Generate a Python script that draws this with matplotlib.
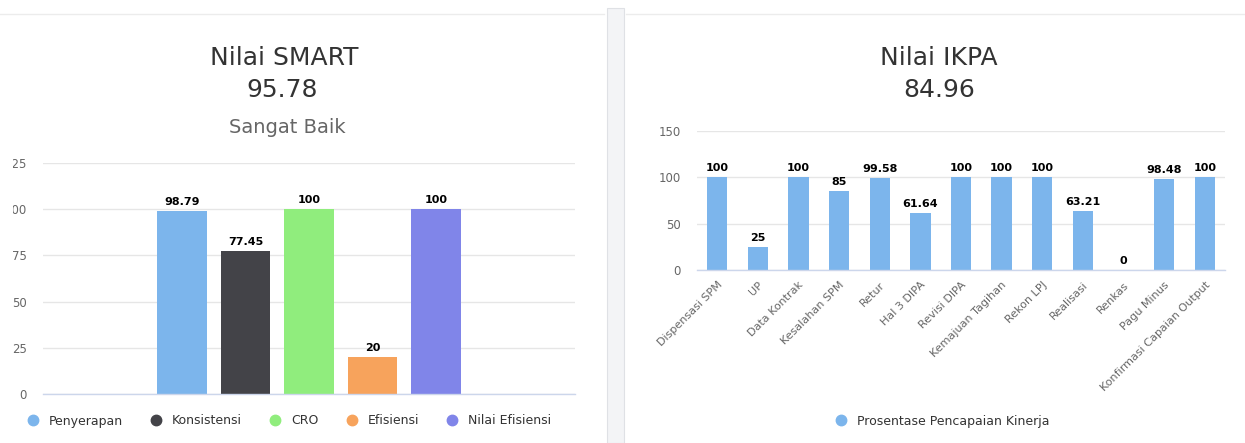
import matplotlib
matplotlib.use("Agg")
import matplotlib.pyplot as plt
from matplotlib.lines import Line2D
from matplotlib.patches import Rectangle
from matplotlib.transforms import Bbox, TransformedBbox, IdentityTransform

plt.rcParams['font.family'] = ['DejaVu Sans']

# ---- data ----
smart_title = "Nilai SMART"
smart_score = "95.78"
smart_grade = "Sangat Baik"
smart_series = ["Penyerapan", "Konsistensi", "CRO", "Efisiensi", "Nilai Efisiensi"]
smart_values = [98.79, 77.45, 100, 20, 100]
smart_labels = ["98.79", "77.45", "100", "20", "100"]
smart_colors = ["#7cb5ec", "#434348", "#90ed7d", "#f7a35c", "#8085e9"]
smart_yticks = [0, 25, 50, 75, 100, 125]

ikpa_title = "Nilai IKPA"
ikpa_score = "84.96"
ikpa_categories = ["Dispensasi SPM", "UP", "Data Kontrak", "Kesalahan SPM", "Retur",
                   "Hal 3 DIPA", "Revisi DIPA", "Kemajuan Tagihan", "Rekon LPJ",
                   "Realisasi", "Renkas", "Pagu Minus", "Konfirmasi Capaian Output"]
ikpa_values = [100, 25, 100, 85, 99.58, 61.64, 100, 100, 100, 63.21, 0, 98.48, 100]
ikpa_labels = ["100", "25", "100", "85", "99.58", "61.64", "100", "100", "100",
               "63.21", "0", "98.48", "100"]
ikpa_series = "Prosentase Pencapaian Kinerja"
ikpa_color = "#7cb5ec"
ikpa_yticks = [0, 50, 100, 150]

W, H = 1245, 443
fig = plt.figure(figsize=(W / 100, H / 100), dpi=100)
fig.patch.set_facecolor("white")

def fx(px):
    return px / W

def fy(py):
    return 1 - py / H

# decorations: top lines and divider
fig.add_artist(Line2D([0, fx(604)], [fy(14), fy(14)], color="#ececec", lw=1))
fig.add_artist(Line2D([fx(626), 1], [fy(14), fy(14)], color="#ececec", lw=1))
fig.add_artist(Rectangle((fx(607), 0), fx(17), fy(8), facecolor="#f3f4f6",
                         edgecolor="#dfe1e5", lw=0.8))

TICK_C = "#666666"
GRID_C = "#e6e6e6"
AXIS_C = "#ccd6eb"

def style_axes(ax):
    for s in ["top", "right", "left"]:
        ax.spines[s].set_visible(False)
    ax.spines["bottom"].set_color(AXIS_C)
    ax.spines["bottom"].set_linewidth(1)
    ax.grid(axis="y", color=GRID_C, lw=1)
    ax.set_axisbelow(True)
    ax.tick_params(axis="y", length=0, colors=TICK_C, labelsize=8.5, pad=11.5)
    ax.tick_params(axis="x", length=0)

# ---- left chart ----
axL = fig.add_axes([fx(43), fy(394), fx(575 - 43), fy(163) - fy(394)])
style_axes(axL)
n = len(smart_values)
xs = [i - (n - 1) / 2 for i in range(n)]
axL.bar(xs, smart_values, width=0.787, color=smart_colors, zorder=2)
for x, v, lab in zip(xs, smart_values, smart_labels):
    axL.annotate(lab, (x, v), xytext=(0, 3), textcoords="offset points",
                 ha="center", va="bottom", fontsize=8, fontweight="bold", color="#000000")
axL.set_xlim(-4.19, 4.19)
axL.set_ylim(0, 125)
axL.set_yticks(smart_yticks)
axL.set_yticklabels([str(t) for t in smart_yticks])
axL.set_xticks([])

fig.text(fx(284), fy(58), smart_title, ha="center", va="center", fontsize=18, color="#333333")
fig.text(fx(282), fy(90), smart_score, ha="center", va="center", fontsize=18, color="#333333")
fig.text(fx(287), fy(128), smart_grade, ha="center", va="center", fontsize=14, color="#666666")

handlesL = [Line2D([], [], marker="o", ls="", markersize=7.5, color=c) for c in smart_colors]
legL = fig.legend(handlesL, smart_series, loc="center", bbox_to_anchor=(fx(289), fy(421)),
                  ncol=5, frameon=False, fontsize=9, handletextpad=0.78,
                  columnspacing=2.15, handlelength=1.0, borderaxespad=0, borderpad=0)
for t in legL.get_texts():
    t.set_color("#333333")

# ---- right chart ----
axR = fig.add_axes([fx(697), fy(270), fx(1225 - 697), fy(131) - fy(270)])
style_axes(axR)
xr = list(range(len(ikpa_values)))
axR.bar(xr, ikpa_values, width=0.5, color=ikpa_color, zorder=2)
for x, v, lab in zip(xr, ikpa_values, ikpa_labels):
    axR.annotate(lab, (x, v), xytext=(0, 3), textcoords="offset points",
                 ha="center", va="bottom", fontsize=8, fontweight="bold", color="#000000")
axR.set_xlim(-0.5, len(ikpa_values) - 0.5)
axR.set_ylim(0, 150)
axR.set_yticks(ikpa_yticks)
axR.set_xticks(xr)
axR.set_xticklabels(ikpa_categories, rotation=45, ha="right", rotation_mode="anchor",
                    fontsize=8, color=TICK_C)
axR.tick_params(axis="x", pad=7)

fig.text(fx(939), fy(58), ikpa_title, ha="center", va="center", fontsize=18, color="#333333")
fig.text(fx(939), fy(90), ikpa_score, ha="center", va="center", fontsize=18, color="#333333")

handlesR = [Line2D([], [], marker="o", ls="", markersize=7.5, color=ikpa_color)]
legR = fig.legend(handlesR, [ikpa_series], loc="center", bbox_to_anchor=(fx(942), fy(421)),
                  ncol=1, frameon=False, fontsize=9, handletextpad=0.78, handlelength=1.0,
                  borderaxespad=0, borderpad=0)
for t in legR.get_texts():
    t.set_color("#333333")

# the reference screenshot is cropped at its left edge, cutting the y labels
clip = TransformedBbox(Bbox([[12.5, 0], [W, H]]), IdentityTransform())
for lab in axL.get_yticklabels():
    lab.set_clip_box(clip)
    lab.set_clip_on(True)

fig.savefig("out.png", dpi=100, facecolor="white")
